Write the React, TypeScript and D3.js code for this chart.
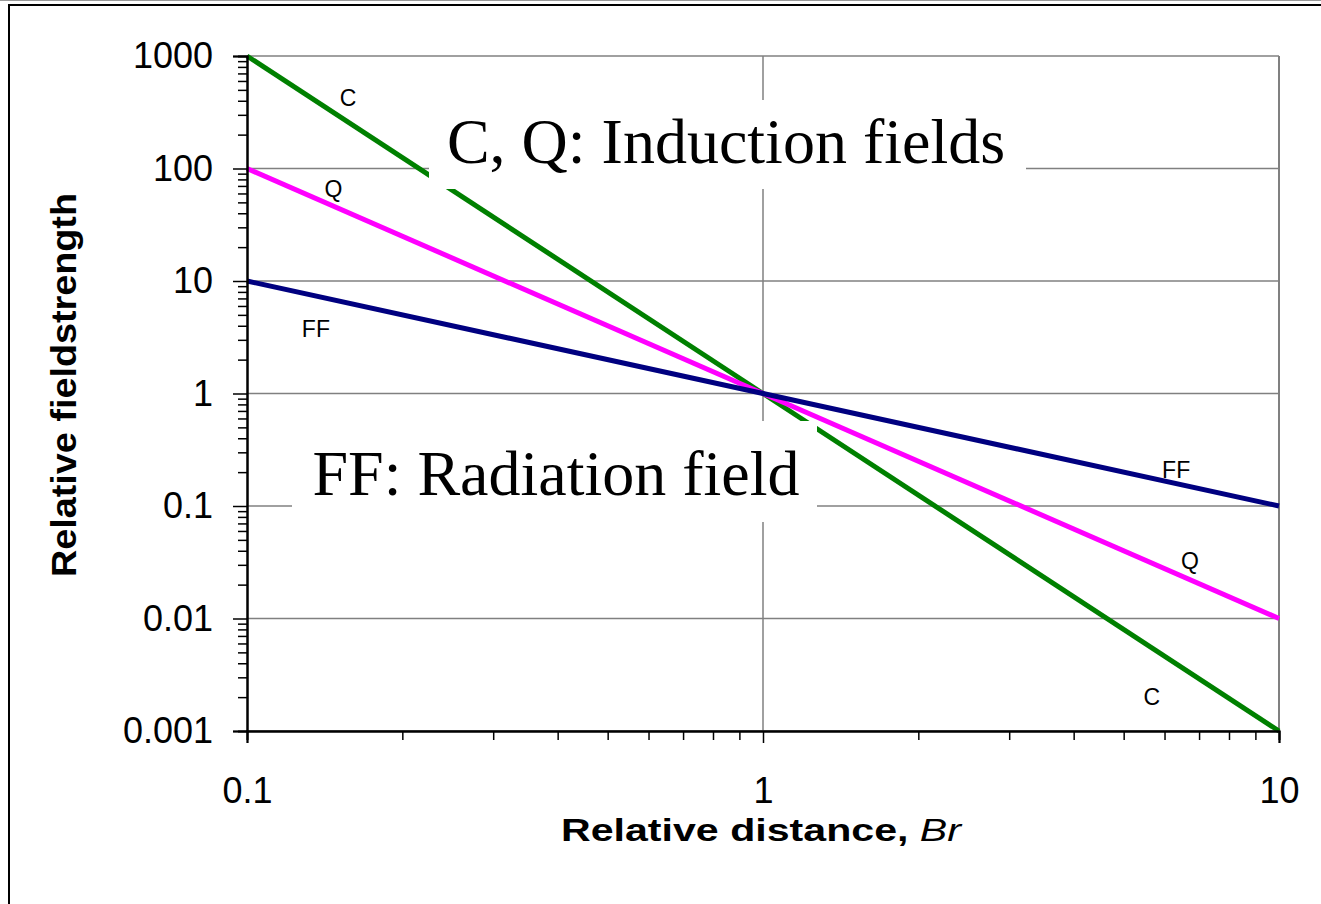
import React, { useEffect, useRef } from "react"
import * as d3 from "d3"

// relative distance (Br) and field strengths
const distances = [0.1, 1, 10]
const capacitive = [1000, 1, 0.001]
const quadrupole = [100, 1, 0.01]
const farField = [10, 1, 0.1]

const seriesNames = ["C", "Q", "FF"]
const seriesColors = ["#008000", "#ff00ff", "#000080"]

const xTicks = [0.1, 1, 10]
const xTickLabels = ["0.1", "1", "10"]
const yTicks = [1000, 100, 10, 1, 0.1, 0.01, 0.001]
const yTickLabels = ["1000", "100", "10", "1", "0.1", "0.01", "0.001"]

// series labels, placed in data units
const labelNames = ["C", "Q", "FF", "FF", "Q", "C"]
const labelX = [0.157, 0.147, 0.136, 6.32, 6.72, 5.67]
const labelY = [424, 66, 3.78, 0.21, 0.0323, 0.002]

const notes = ["C, Q: Induction fields", "FF: Radiation field"]

const W = 1321
const H = 904
const margin = { top: 56, right: 42, bottom: 173, left: 247 }
const sans = "'Liberation Sans', Arial, sans-serif"

// stretch a text element to a given width (the source picture is wider than the font)
function stretch(sel: any, w: number) {
  sel.attr("textLength", w).attr("lengthAdjust", "spacingAndGlyphs")
}

function App() {
  const ref = useRef<SVGSVGElement | null>(null)

  useEffect(() => {
    const svg = d3.select(ref.current)
    svg.selectAll("*").remove()

    const iw = W - margin.left - margin.right
    const ih = H - margin.top - margin.bottom

    // outer frame
    svg.append("line").attr("x1", 0).attr("x2", W).attr("y1", 0.5).attr("y2", 0.5)
      .attr("stroke", "#999").attr("stroke-width", 1)
    svg.append("rect").attr("x", 9).attr("y", 5).attr("width", W + 20).attr("height", H + 20)
      .attr("fill", "none").attr("stroke", "#000").attr("stroke-width", 2)

    const g = svg.append("g").attr("transform", `translate(${margin.left},${margin.top})`)

    const x = d3.scaleLog().domain([0.1, 10]).range([0, iw])
    const y = d3.scaleLog().domain([0.001, 1000]).range([ih, 0])

    // grid
    g.selectAll(".hgrid").data(yTicks).enter().append("line")
      .attr("x1", 0).attr("x2", iw)
      .attr("y1", d => y(d)).attr("y2", d => y(d))
      .attr("stroke", "#808080").attr("stroke-width", 1.5)
    g.append("line").attr("x1", x(1)).attr("x2", x(1)).attr("y1", 0).attr("y2", ih)
      .attr("stroke", "#808080").attr("stroke-width", 1.5)
    g.append("line").attr("x1", iw).attr("x2", iw).attr("y1", 0).attr("y2", ih)
      .attr("stroke", "#808080").attr("stroke-width", 2)

    // series
    const allSeries = [capacitive, quadrupole, farField]
    const line = d3.line<number>()
      .x((_, i) => x(distances[i]))
      .y(d => y(d))
    allSeries.forEach((s, k) => {
      g.append("path").datum(s).attr("d", line)
        .attr("fill", "none").attr("stroke", seriesColors[k]).attr("stroke-width", 5)
        .attr("data-name", seriesNames[k])
    })

    // annotation boxes
    const boxes = [
      { x0: 429, x1: 1026, y0: 100, y1: 189, tx: 726, ty: 163 },
      { x0: 292, x1: 817, y0: 421, y1: 522, tx: 556, ty: 495 },
    ]
    boxes.forEach((b, i) => {
      svg.append("rect").attr("x", b.x0).attr("y", b.y0)
        .attr("width", b.x1 - b.x0).attr("height", b.y1 - b.y0).attr("fill", "#fff")
      svg.append("text").attr("x", b.tx).attr("y", b.ty).attr("text-anchor", "middle")
        .style("font-family", "'Liberation Serif', 'Times New Roman', serif")
        .style("font-size", "64px").attr("fill", "#000").text(notes[i])
    })

    // series labels
    g.selectAll(".lbl").data(labelNames).enter().append("text")
      .attr("x", (_, i) => x(labelX[i])).attr("y", (_, i) => y(labelY[i]))
      .attr("text-anchor", "middle").attr("dominant-baseline", "central")
      .style("font-family", sans).style("font-size", "23px")
      .text(d => d)

    // y axis
    const yMinor: number[] = []
    for (let e = -3; e < 3; e++) for (let m = 2; m <= 9; m++) yMinor.push(m * Math.pow(10, e))
    const yAxis = g.append("g")
    yAxis.call(d3.axisLeft(y).tickValues(yMinor).tickSize(9).tickFormat(() => ""))
    yAxis.append("g").call(
      d3.axisLeft(y).tickValues(yTicks).tickSize(14).tickPadding(20)
        .tickFormat((_, i) => yTickLabels[i])
    )
    yAxis.selectAll("path.domain").attr("stroke", "#000").attr("stroke-width", 2)
    yAxis.selectAll("line").attr("stroke", "#000").attr("stroke-width", 1.5)
    yAxis.selectAll("text").style("font-family", sans)
      .style("font-size", "36px").attr("fill", "#000")

    // x axis
    const xMinor: number[] = []
    for (let e = -1; e < 1; e++) for (let m = 2; m <= 9; m++) xMinor.push(m * Math.pow(10, e))
    const xAxis = g.append("g").attr("transform", `translate(0,${ih})`)
    xAxis.call(d3.axisBottom(x).tickValues(xMinor).tickSize(9).tickFormat(() => ""))
    xAxis.append("g").call(
      d3.axisBottom(x).tickValues(xTicks).tickSize(12).tickPadding(34)
        .tickFormat((_, i) => xTickLabels[i])
    )
    xAxis.selectAll("path.domain").attr("stroke", "#000").attr("stroke-width", 2)
    xAxis.selectAll("line").attr("stroke", "#000").attr("stroke-width", 1.5)
    xAxis.selectAll("text").style("font-family", sans)
      .style("font-size", "36px").attr("fill", "#000")

    // axis titles
    const xt = svg.append("text").attr("x", 761).attr("y", 841).attr("text-anchor", "middle")
      .style("font-family", sans).style("font-size", "31px")
      .style("font-weight", "bold").attr("fill", "#000")
    xt.append("tspan").text("Relative distance, ")
    xt.append("tspan").style("font-style", "italic").style("font-weight", "normal").text("Br")
    stretch(xt, 400)

    const yt = svg.append("text").attr("transform", "translate(76,385) rotate(-90)")
      .attr("text-anchor", "middle")
      .style("font-family", sans).style("font-size", "35px")
      .style("font-weight", "bold").attr("fill", "#000").text("Relative fieldstrength")
    stretch(yt, 384)
  }, [])

  return (
    <svg
      ref={ref}
      width={W}
      height={H}
      style={{ position: "absolute", left: 0, top: 0, background: "#fff" }}
    />
  )
}

export default App
